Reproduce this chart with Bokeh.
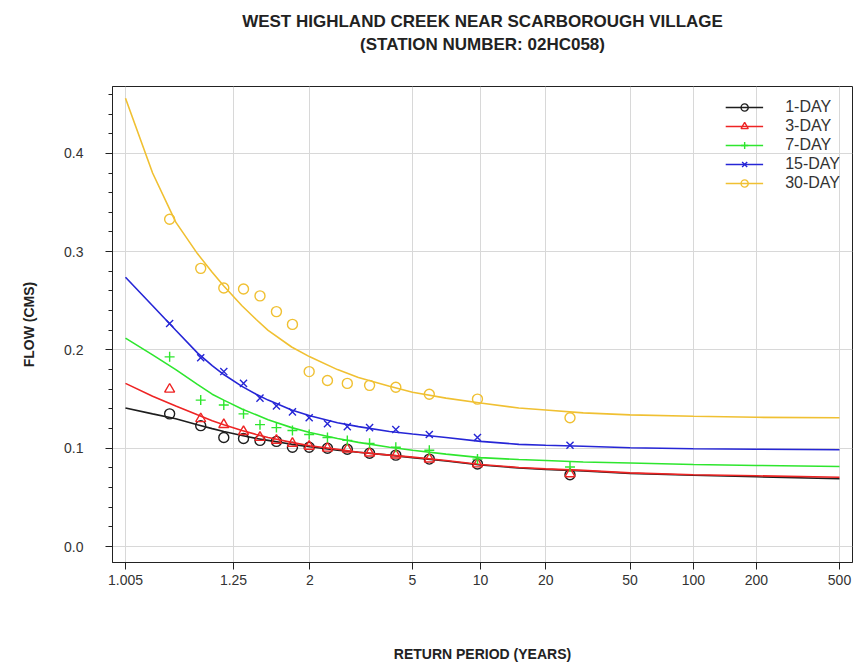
import math
from bokeh.plotting import figure
from bokeh.models import (Range1d, FixedTicker, CustomJSTickFormatter, Title, Legend,
                          LegendItem, PrintfTickFormatter)
from bokeh.embed import file_html
from bokeh.resources import INLINE

# ---------------- data ----------------
tick_periods = [1.005, 1.25, 2, 5, 10, 20, 50, 100, 200, 500]

# empirical (observed) points: return period of each ranked value
return_period_obs = [1.04, 1.11, 1.20, 1.31, 1.43, 1.58, 1.76, 1.99, 2.30, 2.72, 3.32, 4.25, 5.91, 9.69, 26.0]
obs_1day = [0.135, 0.123, 0.111, 0.110, 0.108, 0.107, 0.101, 0.101, 0.100, 0.099, 0.095, 0.093, 0.089, 0.084, 0.073]
obs_3day = [0.160, 0.130, 0.124, 0.117, 0.111, 0.108, 0.105, 0.102, 0.100, 0.099, 0.095, 0.093, 0.089, 0.084, 0.074]
obs_7day = [0.193, 0.149, 0.144, 0.135, 0.124, 0.121, 0.118, 0.114, 0.111, 0.108, 0.105, 0.101, 0.098, 0.089, 0.081]
obs_15day = [0.227, 0.192, 0.178, 0.166, 0.151, 0.143, 0.137, 0.131, 0.125, 0.122, 0.121, 0.119, 0.114, 0.111, 0.103]
obs_30day = [0.333, 0.283, 0.263, 0.262, 0.255, 0.239, 0.226, 0.178, 0.169, 0.166, 0.164, 0.162, 0.155, 0.150, 0.131]

# fitted frequency curves, read at these return periods
return_period_fit = [1.005, 1.02, 1.05, 1.1, 1.15, 1.2, 1.3, 1.4, 1.5, 1.75, 2, 2.5, 3, 4, 5, 7, 10,
                     15, 20, 30, 50, 100, 200, 500]
fit_1day = [0.141, 0.135, 0.130, 0.124, 0.120, 0.117, 0.113, 0.110, 0.108, 0.104, 0.1015, 0.098,
            0.096, 0.093, 0.0905, 0.087, 0.083, 0.080, 0.0785, 0.077, 0.0745, 0.0725, 0.071, 0.069]
fit_3day = [0.166, 0.153, 0.143, 0.134, 0.128, 0.124, 0.118, 0.114, 0.111, 0.106, 0.1025, 0.099,
            0.096, 0.093, 0.091, 0.0875, 0.0835, 0.0805, 0.079, 0.0775, 0.075, 0.073, 0.072, 0.0705]
fit_7day = [0.212, 0.195, 0.180, 0.165, 0.155, 0.149, 0.140, 0.134, 0.129, 0.121, 0.116, 0.110,
            0.106, 0.101, 0.098, 0.094, 0.0905, 0.0885, 0.0875, 0.086, 0.085, 0.0835, 0.0825, 0.0815]
fit_15day = [0.274, 0.245, 0.220, 0.197, 0.184, 0.175, 0.163, 0.155, 0.149, 0.139, 0.133, 0.126,
             0.122, 0.117, 0.1145, 0.111, 0.107, 0.104, 0.103, 0.102, 0.1005, 0.0995, 0.099, 0.0985]
fit_30day = [0.456, 0.380, 0.330, 0.298, 0.279, 0.265, 0.245, 0.231, 0.220, 0.203, 0.193, 0.180,
             0.172, 0.163, 0.157, 0.151, 0.146, 0.141, 0.139, 0.136, 0.134, 0.1325, 0.1315, 0.131]

series_names = ["1-DAY", "3-DAY", "7-DAY", "15-DAY", "30-DAY"]
series_colors = ["#1e1e1e", "#ee2424", "#2ee62e", "#2626d6", "#f0c032"]
series_markers = ["circle", "triangle", "cross", "x", "circle"]
obs_series = [obs_1day, obs_3day, obs_7day, obs_15day, obs_30day]
fit_series = [fit_1day, fit_3day, fit_7day, fit_15day, fit_30day]

title_lines = ["WEST HIGHLAND CREEK NEAR SCARBOROUGH VILLAGE", "(STATION NUMBER: 02HC058)"]


def gumbel(T):
    """Gumbel reduced variate of a return period (probability axis scale)."""
    return -math.log(-math.log(1.0 - 1.0 / T))


FONT = "Liberation Sans"

x_lo = gumbel(tick_periods[0]) - 0.1435
x_hi = gumbel(tick_periods[-1]) + 0.1435

p = figure(width=853, height=666, output_backend="svg", toolbar_location=None, title=None,
           x_range=Range1d(x_lo, x_hi), y_range=Range1d(-0.0162, 0.468),
           min_border_left=112, min_border_right=1, min_border_top=85, min_border_bottom=104)

p.background_fill_color = "white"
p.border_fill_color = "white"
p.outline_line_color = "#222222"
p.outline_line_width = 1

# ---------------- axes ----------------
p.xaxis.ticker = FixedTicker(ticks=[gumbel(t) for t in tick_periods], minor_ticks=[])
p.xaxis.formatter = CustomJSTickFormatter(code="""
    const T = 1.0 / (1.0 - Math.exp(-Math.exp(-tick)));
    return String(parseFloat(T.toFixed(3)));
""")
p.yaxis.ticker = FixedTicker(ticks=[0.0, 0.1, 0.2, 0.3, 0.4],
                             minor_ticks=[i * 0.02 for i in range(0, 24)])
p.yaxis.formatter = PrintfTickFormatter(format="%.1f")

for ax in (p.xaxis[0], p.yaxis[0]):
    ax.axis_line_color = "#222222"
    ax.major_tick_line_color = "#222222"
    ax.minor_tick_line_color = "#222222"
    ax.major_tick_in = 0
    ax.major_tick_out = 7
    ax.minor_tick_in = 0
    ax.minor_tick_out = 4
    ax.major_label_text_font = FONT
    ax.major_label_text_font_size = "14px"
    ax.major_label_text_color = "#333333"
    ax.axis_label_text_font = FONT
    ax.axis_label_text_font_size = "14px"
    ax.axis_label_text_font_style = "bold"
    ax.axis_label_text_color = "#222222"

p.xaxis.axis_label = "RETURN PERIOD (YEARS)"
p.xaxis.major_label_standoff = 5
p.xaxis.axis_label_standoff = 58
p.yaxis.axis_label = "FLOW (CMS)"
p.yaxis.major_label_standoff = 22
p.yaxis.axis_label_standoff = 24

p.grid.grid_line_color = "#d8d8d8"
p.grid.grid_line_width = 1

# ---------------- title (two lines; a blank third line lifts them in the panel) ----------------
title = Title(text="\n".join(title_lines + [" "]), align="center",
              text_align="center", text_font=FONT, text_font_size="17px",
              text_font_style="bold", text_color="#222222", text_line_height=1.2,
              standoff=19)
p.add_layout(title, "above")

# ---------------- data glyphs ----------------
x_fit = [gumbel(t) for t in return_period_fit]
x_obs = [gumbel(t) for t in return_period_obs]

items = []
for name, color, marker, obs, fit in zip(series_names, series_colors, series_markers,
                                          obs_series, fit_series):
    lr = p.line(x_fit, fit, line_color=color, line_width=1.6)
    sr = p.scatter(x_obs, obs, marker=marker, size=10, fill_color=None,
                   line_color=color, line_width=1.4)
    items.append(LegendItem(label=name, renderers=[lr, sr]))

legend = Legend(items=items, location="top_right")
legend.background_fill_alpha = 0
legend.border_line_alpha = 0
legend.label_text_font = FONT
legend.label_text_font_size = "16px"
legend.label_text_color = "#333333"
legend.glyph_width = 38
legend.glyph_height = 18
legend.label_height = 18
legend.spacing = 1
legend.padding = 4
legend.margin = 8
legend.label_standoff = 22
p.add_layout(legend)

open("out.html", "w").write(file_html(p, INLINE))
